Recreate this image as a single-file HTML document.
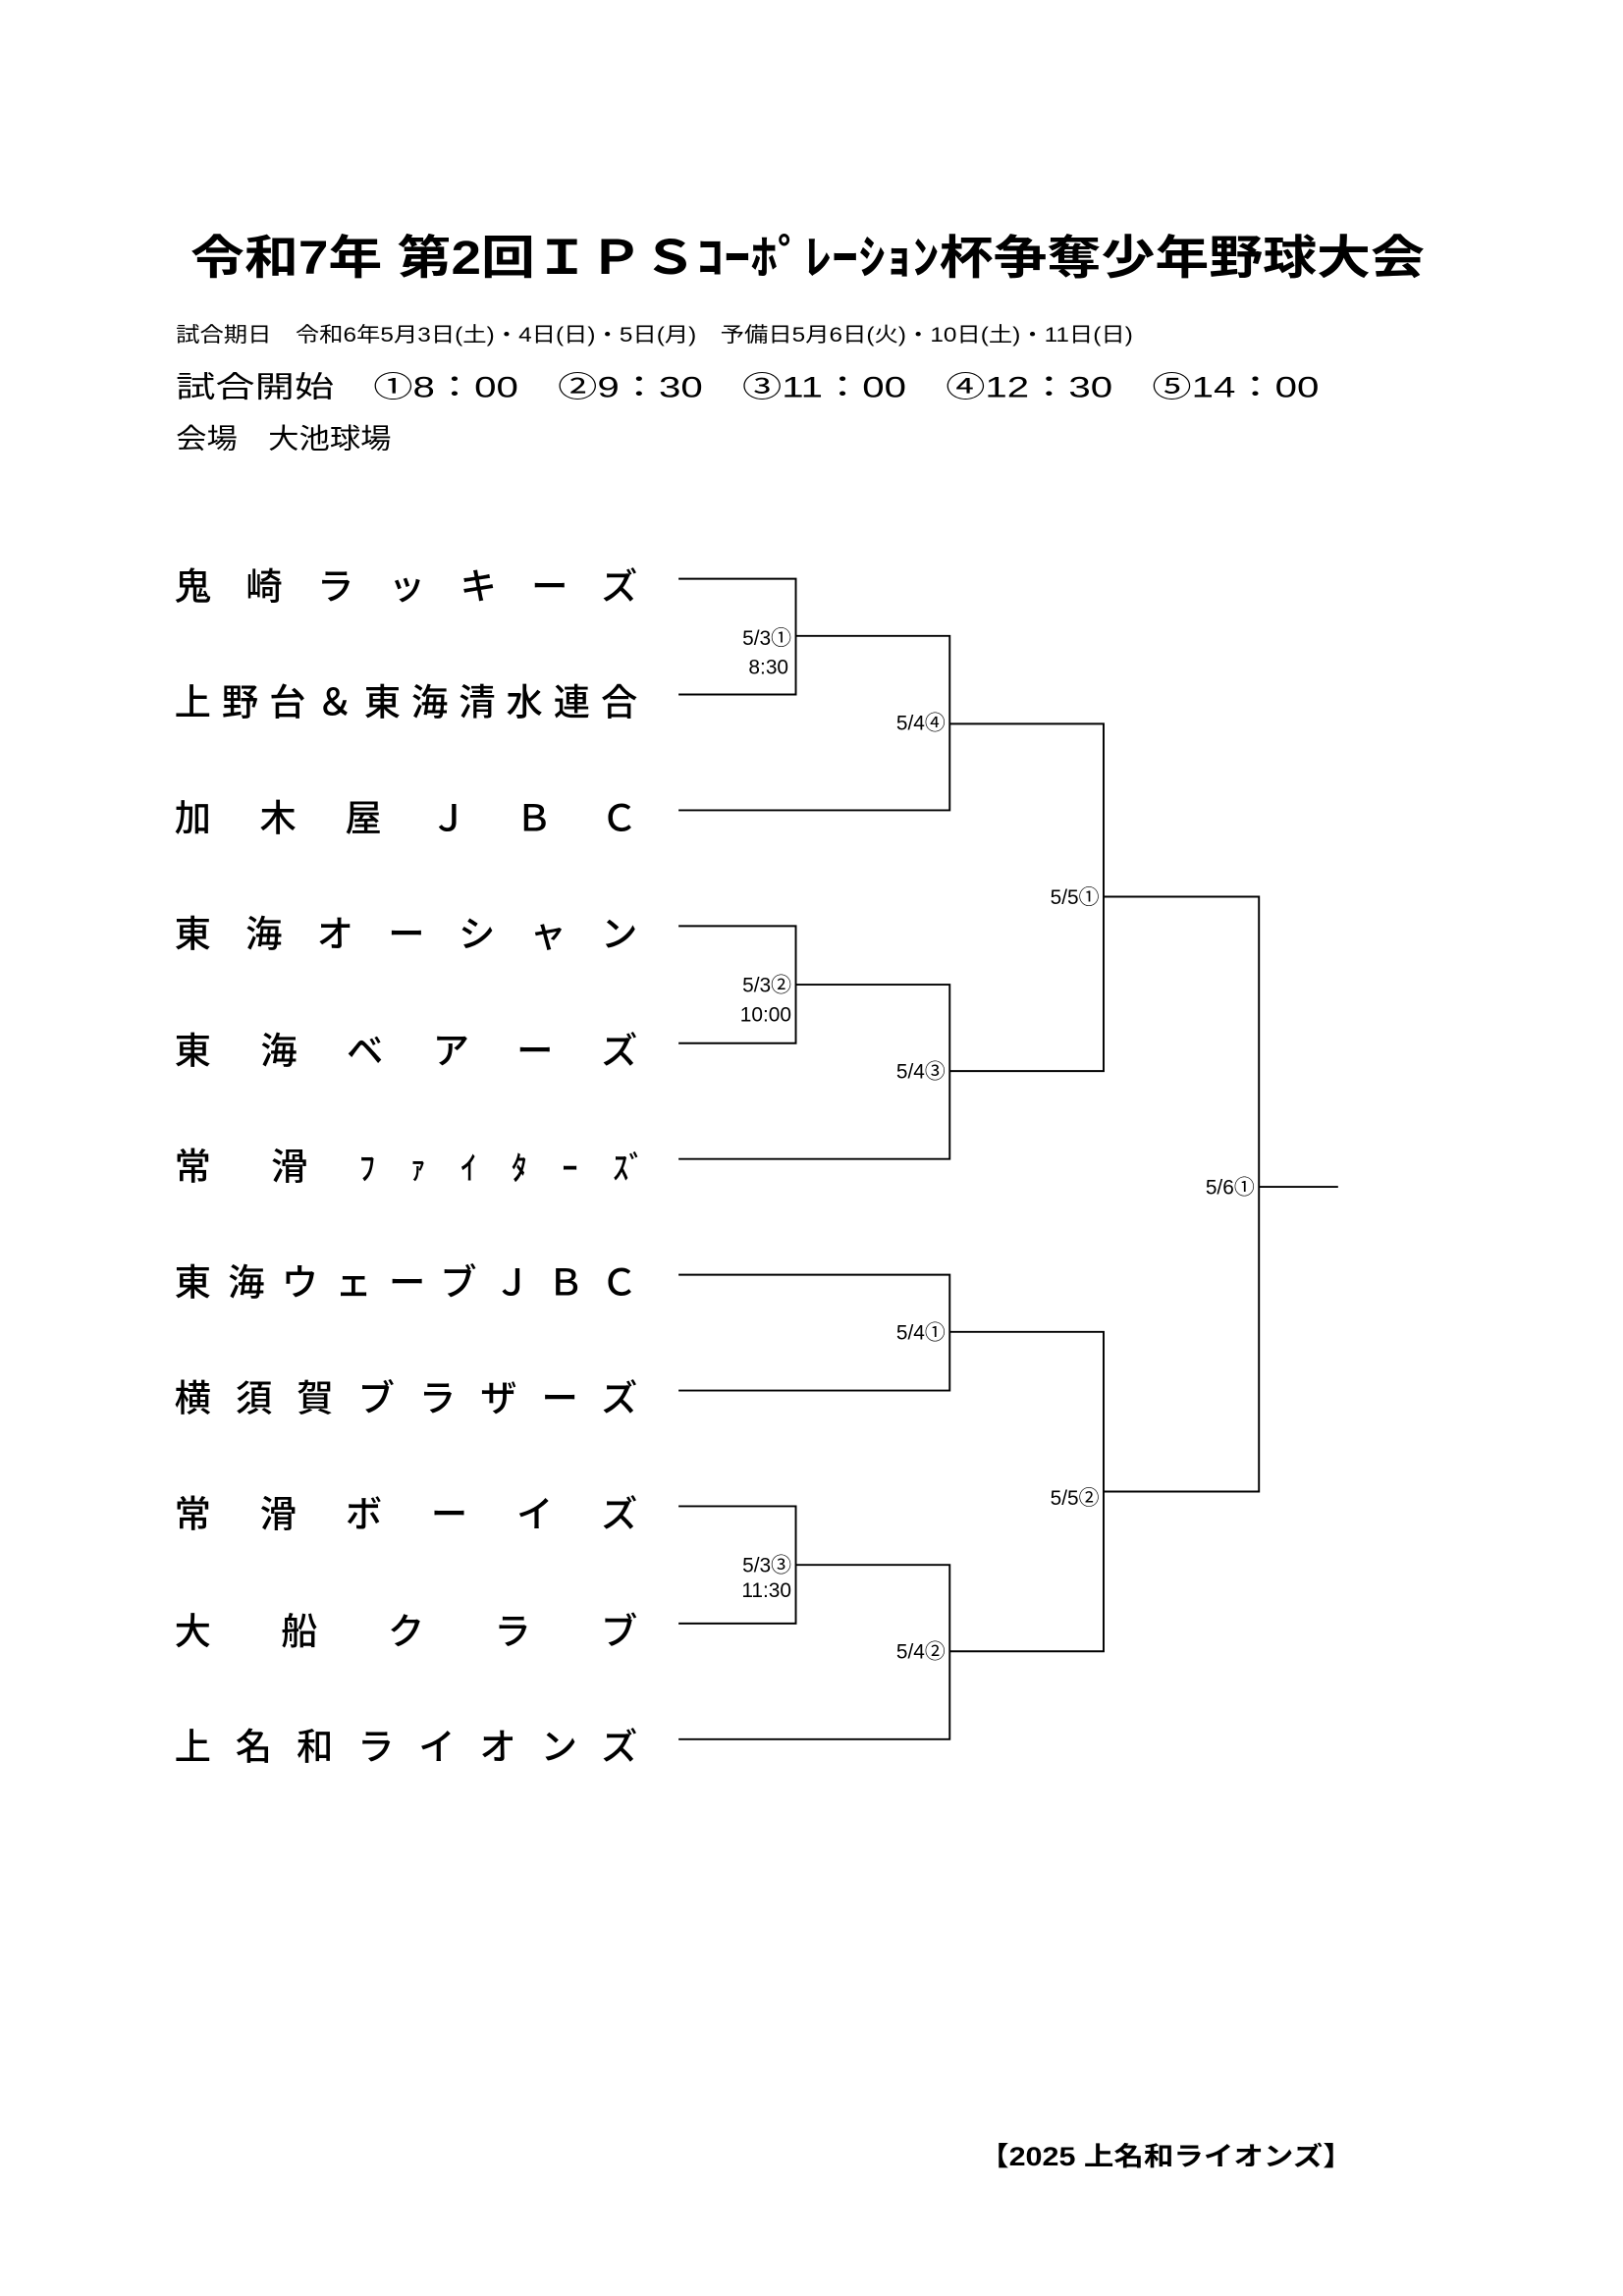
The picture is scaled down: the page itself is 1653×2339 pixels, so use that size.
<!DOCTYPE html>
<html><head><meta charset="utf-8"><style>
html,body{margin:0;padding:0;background:#fff;}
svg{display:block;}
text{font-family:"Liberation Sans","Noto Sans CJK JP",sans-serif;fill:#000;}
.t{font-size:25px;font-weight:500;}
.l{font-size:14px;}
</style></head><body>
<svg width="1653" height="2339" viewBox="0 0 1107.4 1567" preserveAspectRatio="none" xmlns="http://www.w3.org/2000/svg">
<text x="130" y="187" font-size="32" font-weight="bold" textLength="842" lengthAdjust="spacingAndGlyphs">令和7年 第2回ＩＰＳｺｰﾎﾟﾚｰｼｮﾝ杯争奪少年野球大会</text>
<text x="120" y="233" font-size="14" textLength="653" lengthAdjust="spacingAndGlyphs">試合期日　令和6年5月3日(土)・4日(日)・5日(月)　予備日5月6日(火)・10日(土)・11日(日)</text>
<text x="120" y="271" font-size="20" textLength="780" lengthAdjust="spacingAndGlyphs">試合開始　①8：00　②9：30　③11：00　④12：30　⑤14：00</text>
<text x="120" y="306" font-size="19" textLength="147" lengthAdjust="spacingAndGlyphs">会場　大池球場</text>

<g class="t">
<text x="119" y="409" textLength="316" lengthAdjust="spacing">鬼崎ラッキーズ</text>
<text x="119" y="488" textLength="316" lengthAdjust="spacing">上野台＆東海清水連合</text>
<text x="119" y="567" textLength="316" lengthAdjust="spacing">加木屋ＪＢＣ</text>
<text x="119" y="646" textLength="316" lengthAdjust="spacing">東海オーシャン</text>
<text x="119" y="726" textLength="316" lengthAdjust="spacing">東海ベアーズ</text>
<text x="119" y="805">常</text>
<text x="185" y="805">滑</text>
<text x="245" y="805" textLength="195" lengthAdjust="spacing" font-size="22">ﾌｧｲﾀｰｽﾞ</text>
<text x="119" y="884" textLength="316" lengthAdjust="spacing">東海ウェーブＪＢＣ</text>
<text x="119" y="963" textLength="316" lengthAdjust="spacing">横須賀ブラザーズ</text>
<text x="119" y="1042" textLength="316" lengthAdjust="spacing">常滑ボーイズ</text>
<text x="119" y="1122" textLength="316" lengthAdjust="spacing">大船クラブ</text>
<text x="119" y="1201" textLength="316" lengthAdjust="spacing">上名和ライオンズ</text>
</g>

<g stroke="#000" stroke-width="1.3" fill="none">
<polyline points="463,395 543,395 543,474 463,474"/>
<polyline points="543,434 648,434 648,553 463,553"/>
<polyline points="463,632 543,632 543,712 463,712"/>
<polyline points="543,672 648,672 648,791 463,791"/>
<polyline points="648,494 753,494 753,731 648,731"/>
<polyline points="463,870 648,870 648,949 463,949"/>
<polyline points="463,1028 543,1028 543,1108 463,1108"/>
<polyline points="543,1068 648,1068 648,1187 463,1187"/>
<polyline points="648,909 753,909 753,1127 648,1127"/>
<polyline points="753,612 859,612 859,1018 753,1018"/>
<line x1="859" y1="810" x2="913" y2="810"/>
</g>

<g class="l" text-anchor="end">
<text x="540" y="440">5/3①</text><text x="538" y="460">8:30</text>
<text x="540" y="677">5/3②</text><text x="540" y="697">10:00</text>
<text x="540" y="1073">5/3③</text><text x="540" y="1090">11:30</text>
<text x="645" y="498">5/4④</text>
<text x="645" y="736">5/4③</text>
<text x="645" y="914">5/4①</text>
<text x="645" y="1132">5/4②</text>
<text x="750" y="617">5/5①</text>
<text x="750" y="1027">5/5②</text>
<text x="856" y="815">5/6①</text>
</g>

<text x="668" y="1478" font-size="18" font-weight="bold" textLength="255" lengthAdjust="spacingAndGlyphs">【2025 上名和ライオンズ】</text>
</svg>
</body></html>
